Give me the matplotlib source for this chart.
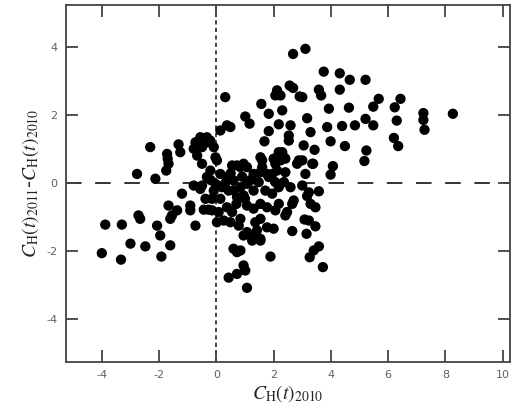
import numpy as np
import matplotlib.pyplot as plt

plt.rcParams['mathtext.fontset'] = 'stix'
plt.rcParams['axes.unicode_minus'] = False

# C_H(t)_2010 values (x) and change 2011-2010 (y)
x_left = [-4.0, -3.33, -3.88, -3.30, -3.0, -2.48, -2.72, -2.66, -2.07, -1.96,
          -1.92, -1.61, -1.61, -1.55, -1.67, -1.37, -1.2, -0.91, -0.91, -0.73,
          -0.44, -0.27, -0.79, -2.31, -1.32, -1.72, -1.70, -1.67, -1.75, -1.26,
          -2.77, -2.13, -0.73, -0.79, -0.56, -0.5, -0.33, -0.21, -0.67, -0.5,
          -0.03, -0.09]
y_left = [-2.05, -2.24, -1.21, -1.21, -1.77, -1.85, -0.94, -1.04, -1.24, -1.53,
          -2.15, -1.82, -1.04, -0.94, -0.65, -0.79, -0.30, -0.65, -0.79, -1.24,
          -0.77, -0.77, -0.06, 1.07, 1.15, 0.87, 0.73, 0.58, 0.38, 0.92,
          0.28, 0.14, 1.21, 1.02, 1.36, 1.07, 1.36, 1.26, 0.82, 0.58,
          0.77, 1.07]

x_top = [0.14, 0.37, 0.49, 0.31, 1.01, 1.16, 1.57, 1.83, 2.3, 2.18,
         1.83, 1.68, 2.59, 2.53, 2.53, 2.12, 2.06, 2.24, 2.56, 2.68,
         2.91, 2.68, 3.11]
y_top = [1.56, 1.71, 1.66, 2.54, 1.97, 1.76, 2.34, 2.05, 2.15, 1.74,
         1.54, 1.24, 1.71, 1.41, 1.26, 2.74, 2.59, 2.59, 2.88, 2.81,
         2.56, 3.81, 3.96]

x_right = [3.75, 4.31, 4.66, 5.21, 3.58, 3.66, 4.31, 3.0, 3.93, 4.63,
           5.67, 5.48, 6.43, 6.23, 7.23, 7.23, 7.27, 8.26, 3.17, 3.87,
           4.39, 4.84, 5.21, 5.48, 6.3, 3.29, 3.99, 4.49, 3.05, 3.43,
           5.24, 5.17, 6.2, 6.35, 3.0, 3.38, 4.07, 3.99, 3.11, 3.58,
           3.17, 3.29, 3.46, 3.08, 3.46, 3.15, 3.58, 3.4, 3.26, 3.72,
           3.0, 3.23, 3.23]
y_right = [3.29, 3.24, 3.05, 3.05, 2.76, 2.59, 2.76, 2.54, 2.2, 2.23,
           2.49, 2.26, 2.49, 2.24, 2.07, 1.87, 1.58, 2.05, 1.92, 1.66,
           1.69, 1.71, 1.9, 1.71, 1.85, 1.51, 1.24, 1.10, 1.12, 0.99,
           0.97, 0.66, 1.34, 1.10, 0.68, 0.58, 0.51, 0.26, 0.28, -0.23,
           -0.37, -0.60, -0.70, -1.06, -1.26, -1.48, -1.85, -1.97, -2.17, -2.46,
           -0.06, -0.26, -1.09]

x_mid = [2.18, 2.36, 2.24, 2.88, 2.82, 2.06, 2.12, 1.54, 1.6, 0.95,
         0.84, 1.07, 0.55, 0.72, 1.3, 1.54, 1.77, 1.95, 2.41, 2.36,
         2.59, 2.3, 2.0, 2.41, 3.35, 1.6, 1.83, 2.06, 2.18, 1.71,
         1.95, 2.7, 2.65, 1.77, 2.06, 2.18, 2.47, 2.41, 2.0, 1.77,
         2.65, 1.89, 1.36, 1.54, 1.3, 0.95, 1.25, 1.54,
         -0.33, 0.02, -0.21, -0.33, 0.14, 0.37, 0.6, -0.5, -0.56, -0.03,
         -0.09, 0.2, 0.43, 0.84, 1.07, 1.3, 1.48, -0.38, -0.15, 0.14,
         0.72, 0.95, -0.15, 0.08, 0.37, 0.55, 1.07, 1.3, 1.54, 0.26,
         0.49, 0.02, 0.84, 0.78, 1.54, 1.07, 1.19, 1.42,
         0.3, 0.6, 0.9, 1.2, 0.5, -0.2, 0.7, 1.0]
y_mid = [0.92, 0.77, 0.68, 0.68, 0.58, 0.58, 0.38, 0.77, 0.68, 0.58,
         0.48, 0.48, 0.53, 0.53, 0.28, 0.33, 0.28, 0.28, 0.33, 0.04,
         -0.11, 0.92, 0.73, 0.73, 0.58, 0.48, 0.19, 0.04, -0.11, -0.21,
         -0.30, -0.5, -0.6, -0.70, -0.79, -0.6, -0.84, -0.94, -1.33, -1.29,
         -1.40, -2.15, -1.14, -1.63, -1.53, -1.53, -1.68, -1.68,
         1.21, 0.68, 0.38, 0.19, 0.28, 0.19, 0.09, -0.06, -0.16, -0.01,
         -0.21, -0.11, -0.21, -0.11, -0.01, -0.21, 0.04, -0.45, -0.45, -0.45,
         -0.40, -0.35, -0.79, -0.84, -0.70, -0.84, -0.65, -0.74, -0.6, -1.09,
         -1.14, -1.14, -1.04, -1.24, -1.04, -1.43, -1.53, -1.38,
         0.0, -0.2, 0.2, 0.1, 0.3, 0.1, -0.6, -0.45]

x_low = [0.6, 0.72, 0.84, 0.95, 1.01, 0.72, 0.43, 1.07]
y_low = [-1.92, -2.02, -1.97, -2.41, -2.56, -2.66, -2.77, -3.07]

x_vals = x_left + x_top + x_right + x_mid + x_low
y_vals = y_left + y_top + y_right + y_mid + y_low

fig = plt.figure(figsize=(5.24, 4.17), dpi=100)
ax = fig.add_axes([0.126, 0.132, 0.847, 0.856])

ax.axhline(0, color='#333333', lw=1.4, dashes=(8, 7), zorder=1)
ax.axvline(0, color='#222222', lw=1.2, dashes=(2.5, 2), zorder=1)
ax.scatter(x_vals, y_vals, s=55, color='black', edgecolors='none', zorder=3)

ax.set_xlim(-5.25, 10.25)
ax.set_ylim(-5.25, 5.25)
ax.set_xticks([-4, -2, 0, 2, 4, 6, 8, 10])
ax.set_yticks([-4, -2, 0, 2, 4])
ax.tick_params(direction='in', length=8.5, width=1.3, color='#444444',
               labelcolor='#606060', labelsize=8, top=True, right=True, pad=6)
for spine in ax.spines.values():
    spine.set_color('#444444')
    spine.set_linewidth(1.3)

ax.set_xlabel(r'$C_{\mathrm{H}}(t)_{2010}$', fontsize=14, color='#222222', labelpad=2)
ax.set_ylabel(r'$C_{\mathrm{H}}(t)_{2011}$-$C_{\mathrm{H}}(t)_{2010}$', fontsize=14,
              color='#222222', labelpad=4)

fig.savefig('out.png', dpi=100)
